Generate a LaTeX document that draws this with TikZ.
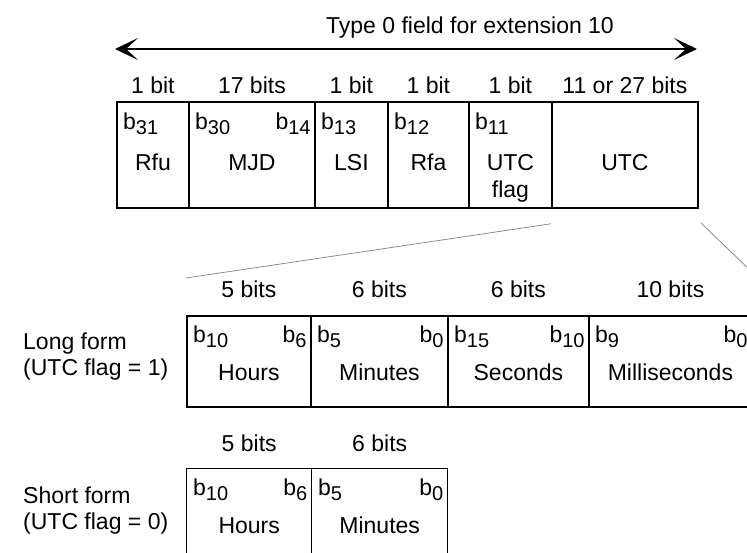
\documentclass[tikz,border=0pt]{standalone}
\usepackage{fontspec}
\setmainfont{Liberation Sans}
\usetikzlibrary{positioning,arrows.meta}
\newcommand{\bsub}[1]{b\raisebox{-5pt}{\fontsize{20}{20}\selectfont #1}}

\begin{document}
\begin{tikzpicture}[x=1pt,y=-1pt,font=\fontsize{23}{26}\selectfont,
  fld/.style={draw,line width=1.8pt,anchor=north west,inner sep=0pt,minimum height=#1},
  txt/.style={inner sep=0pt},
  zoomline/.style={gray,line width=0.7pt}]
\useasboundingbox (0,0) rectangle (747,553);
\clip (0,0) rectangle (747,553);
% whole extension field
\node[txt,anchor=base] (title) at (470,33.5) {Type 0 field for extension 10};
\coordinate (al) at (115,49);
\coordinate (ar) at (697,49);
\draw[{Stealth[length=23pt,width=22pt,inset=12pt]}-{Stealth[length=23pt,width=22pt,inset=12pt]},line width=1.4pt] (al)--(ar);
\foreach \nm/\xa/\xb/\bits/\bl/\br/\name in {
  rfu/116/188/1 bit/\bsub{31}/{}/Rfu,
  mjd/188/314/17 bits/\bsub{30}/\bsub{14}/MJD,
  lsi/314/387/1 bit/\bsub{13}/{}/LSI,
  rfa/387/468/1 bit/\bsub{12}/{}/Rfa,
  flag/468/551/1 bit/\bsub{11}/{}/{\begin{tabular}[t]{@{}c@{}}UTC\\[1pt]flag\end{tabular}},
  utc/551/697/11 or 27 bits/{}/{}/UTC}{
  \node[fld=106pt,minimum width={(\xb-\xa)*1pt}] (\nm) at (\xa,101) {};
  \node[txt,anchor=base] (\nm-bits) at ([yshift=7pt]\nm.north) {\bits};
  \node[txt,anchor=base west] (\nm-bl) at ([xshift=7pt,yshift=-29pt]\nm.north west) {\bl};
  \node[txt,anchor=base east] (\nm-br) at ([xshift=-5pt,yshift=-29pt]\nm.north east) {\br};
  \node[txt,anchor=base] (\nm-name) at ([yshift=-70pt]\nm.north) {\name};
}
% long form
\node[txt,anchor=base west,align=left] (longlbl) at (23,375) {Long form\\(UTC flag = 1)};
\foreach \nm/\xa/\xb/\bits/\bl/\br/\name in {
  lhrs/186/310/5 bits/\bsub{10}/\bsub{6}/Hours,
  lmin/310/447/6 bits/\bsub{5}/\bsub{0}/Minutes,
  lsec/447/588/6 bits/\bsub{15}/\bsub{10}/Seconds,
  lms/588/751/10 bits/\bsub{9}/\bsub{0}/Milliseconds}{
  \node[fld=91pt,minimum width={(\xb-\xa)*1pt}] (\nm) at (\xa,315) {};
  \node[txt,anchor=base] (\nm-bits) at ([yshift=17pt]\nm.north) {\bits};
  \node[txt,anchor=base west] (\nm-bl) at ([xshift=7pt,yshift=-27pt]\nm.north west) {\bl};
  \node[txt,anchor=base east] (\nm-br) at ([xshift=-5pt,yshift=-27pt]\nm.north east) {\br};
  \node[txt,anchor=base] (\nm-name) at ([yshift=-65pt]\nm.north) {\name};
}
% short form
\node[txt,anchor=base west,align=left] (shortlbl) at (23,529) {Short form\\(UTC flag = 0)};
\foreach \nm/\xa/\xb/\bits/\bl/\br/\name in {
  shrs/186/311/5 bits/\bsub{10}/\bsub{6}/Hours,
  smin/311/447/6 bits/\bsub{5}/\bsub{0}/Minutes}{
  \node[fld=100pt,line width=1.4pt,minimum width={(\xb-\xa)*1pt}] (\nm) at (\xa,468) {};
  \node[txt,anchor=base] (\nm-bits) at ([yshift=17pt]\nm.north) {\bits};
  \node[txt,anchor=base west] (\nm-bl) at ([xshift=7pt,yshift=-27pt]\nm.north west) {\bl};
  \node[txt,anchor=base east] (\nm-br) at ([xshift=-5pt,yshift=-27pt]\nm.north east) {\br};
  \node[txt,anchor=base] (\nm-name) at ([yshift=-65pt]\nm.north) {\name};
}
% zoom lines from UTC to long form
\coordinate (zl1) at ([yshift=-15pt]utc.south west);
\coordinate (zl2) at ([yshift=37pt]lhrs.north west);
\coordinate (zr1) at ([xshift=2pt,yshift=-14pt]utc.south east);
\coordinate (zr2) at (779,298);
\draw[zoomline] (zl1)--(zl2);
\draw[zoomline] (zr1)--(zr2);
\end{tikzpicture}
\end{document}
